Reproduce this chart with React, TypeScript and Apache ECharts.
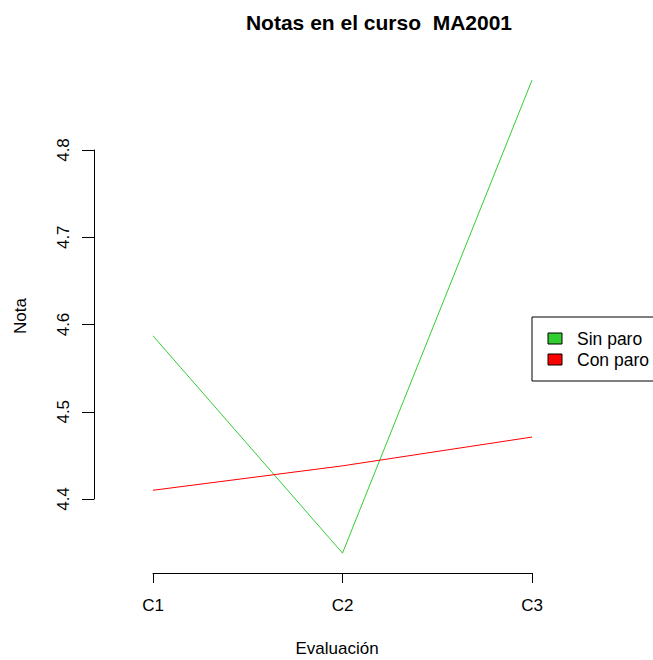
import React, { useEffect, useRef } from "react";
import * as echarts from "echarts";

// Evaluations on the x axis
const categories = ["C1", "C2", "C3"];
// Mean grade per evaluation for each group
const sinParo = [4.587, 4.338, 4.88];
const conParo = [4.41, 4.438, 4.471];
const seriesNames = ["Sin paro", "Con paro"];
const seriesColors = ["#32CD32", "#FF0000"];

const FONT = "'Liberation Sans', Arial, sans-serif";

export default function App() {
  const ref = useRef<HTMLDivElement>(null);

  useEffect(() => {
    if (!ref.current) return;
    const chart = echarts.init(ref.current, null, { renderer: "svg" });

    const legendItems = seriesNames.flatMap((name, i) => [
      {
        type: "rect",
        shape: { x: 548, y: 333 + i * 21, width: 14, height: 11 },
        style: { fill: seriesColors[i], stroke: "#000", lineWidth: 1 },
      },
      {
        type: "text",
        x: 577,
        y: 339 + i * 21,
        style: {
          text: name,
          fill: "#000",
          font: `17.5px ${FONT}`,
          verticalAlign: "middle",
        },
      },
    ]);

    chart.setOption({
      animation: false,
      backgroundColor: "#fff",
      grid: { left: 153, right: 121, top: 150, bottom: 161 },
      xAxis: {
        type: "category",
        data: categories,
        boundaryGap: false,
        offset: 74,
        axisLine: { show: true, lineStyle: { color: "#000", width: 1 } },
        axisTick: { show: true, length: 10, alignWithLabel: true, lineStyle: { color: "#000" } },
        axisLabel: { color: "#000", fontSize: 17, fontFamily: FONT, margin: 24 },
        splitLine: { show: false },
      },
      yAxis: {
        type: "value",
        min: 4.4,
        max: 4.8,
        interval: 0.1,
        offset: 59,
        axisLine: { show: true, lineStyle: { color: "#000", width: 1 } },
        axisTick: { show: true, length: 12, lineStyle: { color: "#000" } },
        axisLabel: {
          color: "#000",
          fontSize: 17,
          fontFamily: FONT,
          rotate: 90,
          margin: 22,
          formatter: (v: number) => v.toFixed(1),
        },
        splitLine: { show: false },
      },
      series: [
        {
          name: seriesNames[0],
          type: "line",
          data: sinParo,
          clip: false,
          symbol: "none",
          lineStyle: { color: seriesColors[0], width: 1 },
        },
        {
          name: seriesNames[1],
          type: "line",
          data: conParo,
          clip: false,
          symbol: "none",
          lineStyle: { color: seriesColors[1], width: 1 },
        },
      ],
      graphic: [
        {
          type: "text",
          x: 379,
          y: 22,
          style: {
            text: "Notas en el curso  MA2001",
            fill: "#000",
            font: `bold 21px ${FONT}`,
            align: "center",
            verticalAlign: "middle",
          },
        },
        {
          type: "text",
          x: 337,
          y: 648,
          style: {
            text: "Evaluación",
            fill: "#000",
            font: `17px ${FONT}`,
            align: "center",
            verticalAlign: "middle",
          },
        },
        {
          type: "text",
          x: 20,
          y: 316,
          rotation: Math.PI / 2,
          style: {
            text: "Nota",
            fill: "#000",
            font: `17px ${FONT}`,
            align: "center",
            verticalAlign: "middle",
          },
        },
        {
          type: "rect",
          shape: { x: 532, y: 317, width: 140, height: 64 },
          style: { fill: "#fff", stroke: "#000", lineWidth: 1 },
        },
        ...legendItems,
      ],
    });

    return () => chart.dispose();
  }, []);

  return (
    <div
      ref={ref}
      style={{ position: "absolute", left: 0, top: 0, width: 653, height: 660 }}
    />
  );
}
